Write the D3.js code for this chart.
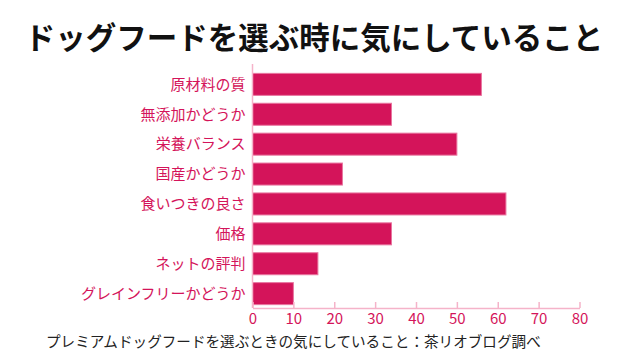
<!DOCTYPE html>
<html><head><meta charset="utf-8">
<script src="https://cdn.jsdelivr.net/npm/d3@7/dist/d3.min.js"></script>
<style>body{margin:0;background:#fff;}svg{display:block;}</style>
</head><body><svg id="c" width="640" height="360"></svg>
<script>
const title = "ドッグフードを選ぶ時に気にしていること";
const footer = "プレミアムドッグフードを選ぶときの気にしていること：茶リオブログ調べ";
const categories = ["原材料の質","無添加かどうか","栄養バランス","国産かどうか","食いつきの良さ","価格","ネットの評判","グレインフリーかどうか"];
const values = [56,34,50,22,62,34,16,10];
const ticks = [0,10,20,30,40,50,60,70,80];

(function(){
const svg = d3.select("#c");
const font = "'Noto Sans CJK JP', sans-serif";
const pink = "#d4145a", light = "#f5b3c9";
const mL = 252.5, mR = 579.5, mT = 64, mB = 308;

svg.append("text").attr("x",314).attr("y",49).attr("text-anchor","middle")
  .attr("font-family",font).attr("font-weight","bold").attr("font-size",30.5).attr("fill","#111")
  .text(title);

const x = d3.scaleLinear().domain([0,80]).range([mL,mR]);
const y = d3.scaleBand().domain(categories).range([69,309]).paddingInner(0.264).paddingOuter(0.146);

svg.selectAll("rect.bar").data(categories).join("rect").attr("class","bar")
  .attr("x",x(0)).attr("y",d=>y(d)).attr("height",y.bandwidth())
  .attr("width",(d,i)=>x(values[i])-x(0))
  .attr("fill",pink).attr("stroke","#e8759f").attr("stroke-width",1);

svg.selectAll("text.lab").data(categories).join("text").attr("class","lab")
  .attr("x",mL-7).attr("y",d=>y(d)+y.bandwidth()/2).attr("dy","0.35em")
  .attr("text-anchor","end").attr("font-family",font).attr("font-size",15).attr("fill",pink)
  .text(d=>d);

svg.append("line").attr("x1",mL).attr("x2",mL).attr("y1",mT).attr("y2",mB)
  .attr("stroke",light).attr("stroke-width",1.5);

const ax = svg.append("g").attr("transform",`translate(0,${mB})`)
  .call(d3.axisBottom(x).tickValues(ticks).tickSizeInner(-6).tickSizeOuter(0).tickPadding(5));
ax.select(".domain").attr("stroke",light).attr("stroke-width",1.5);
ax.selectAll(".tick line").attr("stroke",light).attr("stroke-width",1.5);
ax.selectAll(".tick text").attr("fill",pink).attr("font-family",font).attr("font-size",15);

svg.append("text").attr("x",46).attr("y",347)
  .attr("font-family",font).attr("font-size",14.6).attr("fill","#222")
  .text(footer);
})();
</script></body></html>
